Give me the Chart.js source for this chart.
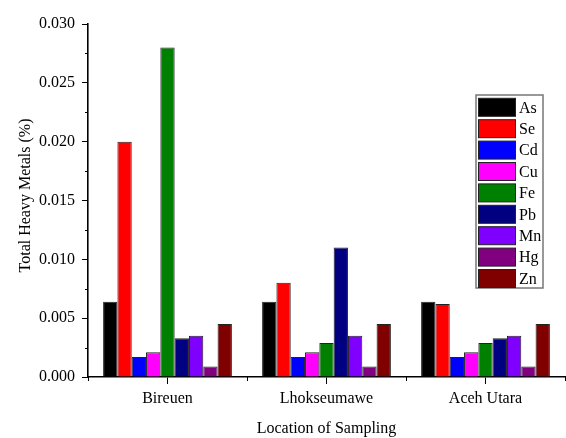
<!DOCTYPE html>
<html>
<head>
<meta charset="utf-8">
<script src="https://cdn.jsdelivr.net/npm/chart.js@4.4.1/dist/chart.umd.min.js"></script>
<style>
  html, body { margin: 0; padding: 0; background: #fff; }
  #wrap { width: 566px; height: 438px; }
</style>
</head>
<body>
<div id="wrap"><canvas id="c" width="566" height="438"></canvas></div>
<script>
// Sampling locations and metal content (%)
const locations = ['Bireuen', 'Lhokseumawe', 'Aceh Utara'];
const metals = ['As', 'Se', 'Cd', 'Cu', 'Fe', 'Pb', 'Mn', 'Hg', 'Zn'];
const metalColors = ['#000000', '#ff0000', '#0000ff', '#ff00ff', '#008000', '#000080', '#8000ff', '#800080', '#800000'];

const As = [0.0064, 0.0064, 0.0064];
const Se = [0.0200, 0.0080, 0.0062];
const Cd = [0.0017, 0.0017, 0.0017];
const Cu = [0.0021, 0.0021, 0.0021];
const Fe = [0.0280, 0.0029, 0.0029];
const Pb = [0.0033, 0.0110, 0.0033];
const Mn = [0.0035, 0.0035, 0.0035];
const Hg = [0.0009, 0.0009, 0.0009];
const Zn = [0.0045, 0.0045, 0.0045];

const yTicks = [0.000, 0.005, 0.010, 0.015, 0.020, 0.025, 0.030];
const yTitle = 'Total Heavy Metals (%)';

const seriesValues = [As, Se, Cd, Cu, Fe, Pb, Mn, Hg, Zn];
const FONT = '"Liberation Serif", "Times New Roman", serif';

// Minor tick marks: between categories on x, halfway between labels on y
const minorTicks = {
  id: 'minorTicks',
  afterDraw(chart) {
    const ctx = chart.ctx;
    const x = chart.scales.x, y = chart.scales.y;
    ctx.save();
    ctx.strokeStyle = '#000';
    ctx.lineWidth = 1;
    const half = (x.getPixelForValue(1) - x.getPixelForValue(0)) / 2;
    const b = y.bottom;
    for (let i = 0; i <= locations.length; i++) {
      const px = Math.round(x.getPixelForValue(i) - half) + 0.5;
      ctx.beginPath(); ctx.moveTo(px, b); ctx.lineTo(px, b + 4); ctx.stroke();
    }
    for (let i = 0; i < yTicks.length - 1; i++) {
      const v = (yTicks[i] + yTicks[i + 1]) / 2;
      const py = Math.round(y.getPixelForValue(v)) + 0.5;
      ctx.beginPath(); ctx.moveTo(x.left, py); ctx.lineTo(x.left - 3, py); ctx.stroke();
    }
    ctx.restore();
  }
};

// Rotated y-axis title, sitting slightly above the plot's middle
const yAxisTitle = {
  id: 'yAxisTitle',
  afterDraw(chart) {
    const ctx = chart.ctx;
    const y = chart.scales.y;
    ctx.save();
    ctx.translate(26, (y.top + y.bottom) / 2 - 5);
    ctx.rotate(-Math.PI / 2);
    ctx.font = '16px ' + FONT;
    ctx.fillStyle = '#000';
    ctx.textAlign = 'center';
    ctx.textBaseline = 'middle';
    ctx.fillText(yTitle, 0, 0);
    ctx.restore();
  }
};

// Boxed legend in the upper right of the plot
const boxLegend = {
  id: 'boxLegend',
  afterDraw(chart) {
    const ctx = chart.ctx;
    const left = 476, top = 95, w = 67, h = 193;
    const sw = 37, sh = 18, step = 21.4;
    ctx.save();
    ctx.fillStyle = '#fff';
    ctx.fillRect(left, top, w, h);
    ctx.strokeStyle = '#777';
    ctx.lineWidth = 1.5;
    ctx.strokeRect(left, top, w, h);
    ctx.font = '16px ' + FONT;
    ctx.textBaseline = 'middle';
    ctx.textAlign = 'left';
    chart.data.datasets.forEach((ds, i) => {
      const sy = top + 3.3 + i * step;
      ctx.fillStyle = ds.backgroundColor;
      ctx.fillRect(left + 2.5, sy, sw, sh);
      ctx.strokeStyle = '#222';
      ctx.lineWidth = 1;
      ctx.strokeRect(left + 2.5, sy, sw, sh);
      ctx.fillStyle = '#000';
      ctx.fillText(ds.label, left + 43, sy + sh / 2 + 1);
    });
    ctx.restore();
  }
};

new Chart(document.getElementById('c'), {
  type: 'bar',
  data: {
    labels: locations,
    datasets: metals.map((m, i) => ({
      label: m,
      data: seriesValues[i],
      backgroundColor: metalColors[i],
      borderColor: '#222',
      borderWidth: 1,
      categoryPercentage: 0.81,
      barPercentage: 1.0
    }))
  },
  options: {
    responsive: false,
    animation: false,
    layout: { padding: { top: 24, right: 1, left: 0, bottom: 0 } },
    plugins: { legend: { display: false }, tooltip: { enabled: false } },
    scales: {
      x: {
        offset: true,
        grid: { display: true, drawOnChartArea: false, drawTicks: true, tickLength: 7, color: '#000', offset: false, lineWidth: 1 },
        border: { display: true, color: '#000', width: 1.6 },
        ticks: { color: '#000', font: { family: FONT, size: 16 }, padding: 5 },
        title: { display: true, text: 'Location of Sampling', color: '#000', font: { family: FONT, size: 16 }, padding: { top: 0, bottom: 0 } },
        afterFit(scale) { scale.height = 61; }
      },
      y: {
        min: 0, max: 0.03,
        afterBuildTicks(scale) { scale.ticks = yTicks.map(v => ({ value: v })); },
        grid: { display: true, drawOnChartArea: false, drawTicks: true, tickLength: 6, color: '#000', lineWidth: 1 },
        border: { display: true, color: '#000', width: 1.6 },
        ticks: { color: '#000', font: { family: FONT, size: 16 }, padding: 7, callback: v => Number(v).toFixed(3) },
        title: { display: false },
        afterFit(scale) { scale.width = 88; }
      }
    }
  },
  plugins: [minorTicks, yAxisTitle, boxLegend]
});
</script>
</body>
</html>
